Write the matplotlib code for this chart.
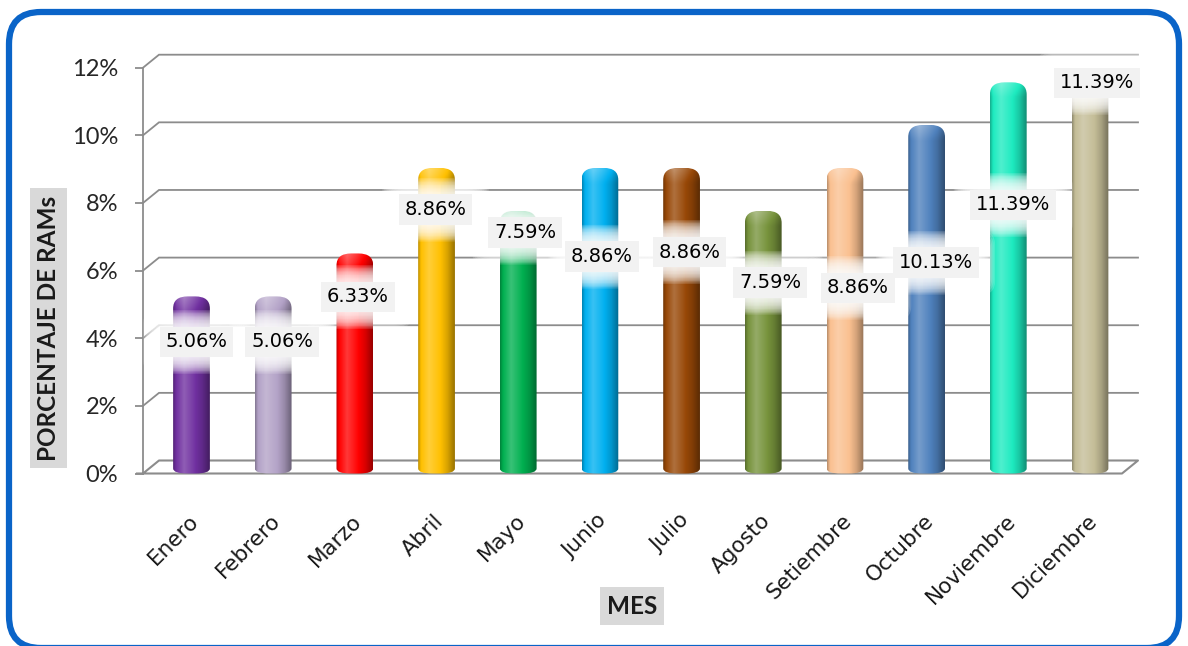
import numpy as np
import matplotlib.pyplot as plt
from matplotlib.path import Path
from matplotlib.patches import PathPatch, FancyBboxPatch
from matplotlib.colors import to_rgb
from matplotlib import transforms

# Datos: porcentaje de RAMs por mes
meses = ["Enero", "Febrero", "Marzo", "Abril", "Mayo", "Junio", "Julio",
         "Agosto", "Setiembre", "Octubre", "Noviembre", "Diciembre"]
porcentajes = [5.06, 5.06, 6.33, 8.86, 7.59, 8.86, 8.86, 7.59, 8.86, 10.13, 11.39, 11.39]
colores = ["#7030A0", "#B3A2C7", "#FF0000", "#FFC000", "#00B050", "#00B0F0",
           "#984807", "#77933C", "#FAC090", "#4F81BD", "#1DEBC0", "#C4BD97"]
y_ticks = [0, 2, 4, 6, 8, 10, 12]

# Ubicación de las etiquetas de valor (altura en % y desplazamiento en px)
etiqueta_y = [3.89, 3.89, 5.22, 7.80, 7.12, 6.41, 6.55, 5.64, 5.49, 6.23, 7.94, 11.55]
etiqueta_dx = [5, 9, 3, -1, 7, 2, 8, 7, 13, 9, 5, 7]

W, H = 1188, 646
fig = plt.figure(figsize=(W / 100, H / 100), dpi=100)

# Marco azul redondeado
ax_bg = fig.add_axes([0, 0, 1, 1], zorder=0)
ax_bg.set_xlim(0, W)
ax_bg.set_ylim(H, 0)
ax_bg.axis("off")
ax_bg.add_patch(FancyBboxPatch((9, 12), 1170, 636, boxstyle="round,pad=0,rounding_size=32",
                               lw=4.5, ec="#0a64c8", fc="white"))

# Ejes principales (en px: izquierda 143, derecha 1122, 0% en 473.5, 12% en 67.7)
px_x, px_y = 81.68, (473.5 - 67.7) / 12
x0 = -(191.5 - 143) / px_x
x1 = (1122 - 191.5) / px_x
ax = fig.add_axes([143 / W, 1 - 473.5 / H, (1122 - 143) / W, (473.5 - 67.7) / H], zorder=1)
ax.set_xlim(x0, x1)
ax.set_ylim(0, 12)
ax.patch.set_alpha(0)
for s in ax.spines.values():
    s.set_visible(False)

# Profundidad 3D de la cuadrícula
ddx, ddy = 16 / px_x, 13 / px_y
gris = "#8c8c8c"
for v in y_ticks[1:]:
    ax.plot([x0, x0 + ddx, x1 + ddx], [v, v + ddy, v + ddy], color=gris, lw=1.3,
            clip_on=False, zorder=1, solid_joinstyle="miter")
ax.plot([x0, x0], [0, 12], color=gris, lw=1.3, clip_on=False, zorder=1)
# piso
ax.plot([x0 - 6 / px_x, x1, x1 + ddx, x0 + ddx, x0], [0, 0, ddy, ddy, 0], color=gris,
        lw=1.5, clip_on=False, zorder=1)

ax.set_yticks(y_ticks)
ax.set_yticklabels([f"{v}%" for v in y_ticks], fontfamily="Lato", fontsize=17, color="#262626")
ax.tick_params(axis="y", length=6, width=1.3, color=gris, pad=12)
ax.set_xticks([])


def barra(xc, h, color, w=0.45):
    """Dibuja una barra cilíndrica; la tapa elíptica sobresale un poco del valor."""
    xa, xb = xc - w / 2, xc + w / 2
    top = h + 6 / px_y
    rx, ry = w * 0.4, 12 / px_y
    ryb = 5 / px_y
    verts = [(xa, ryb), (xa, top - ry), (xa, top), (xa + rx, top), (xb - rx, top), (xb, top),
             (xb, top - ry), (xb, ryb), (xb, 0), (xb - rx, 0), (xa + rx, 0), (xa, 0),
             (xa, ryb), (xa, ryb)]
    codes = [Path.MOVETO, Path.LINETO, Path.CURVE3, Path.CURVE3, Path.LINETO, Path.CURVE3,
             Path.CURVE3, Path.LINETO, Path.CURVE3, Path.CURVE3, Path.LINETO, Path.CURVE3,
             Path.CURVE3, Path.CLOSEPOLY]
    patch = PathPatch(Path(verts, codes), fc="none", ec="none")
    ax.add_patch(patch)

    base = np.array(to_rgb(color))
    t = np.linspace(0, 1, 60)
    # sombreado horizontal: borde oscuro, brillo a la izquierda, oscuro a la derecha
    f = np.interp(t, [0, 0.08, 0.3, 0.55, 0.8, 1], [-0.25, 0.0, 0.22, 0.05, -0.15, -0.4])
    rows = 120
    img = np.zeros((rows, t.size, 3))
    cap = min(0.9, 14 / (top * px_y))
    for r in range(rows):
        fr = 1 - r / (rows - 1)
        extra = 0.18 * (fr - (1 - cap)) / cap if fr > 1 - cap else 0
        for j, fj in enumerate(f + extra):
            if fj >= 0:
                img[r, j] = base + (1 - base) * fj
            else:
                img[r, j] = base * (1 + fj)
    im = ax.imshow(img, extent=[xa, xb, 0, top], origin="upper", aspect="auto",
                   interpolation="bilinear", zorder=2)
    im.set_clip_path(patch)


for i, (v, c) in enumerate(zip(porcentajes, colores)):
    barra(i, v, c)

# Etiquetas de valor con halo blanco difuso
for i, v in enumerate(porcentajes):
    tr = transforms.offset_copy(ax.transData, fig=fig, x=etiqueta_dx[i], y=0, units="dots")
    texto = f"{v:.2f}%"
    for pad in np.linspace(1.15, 0.35, 12):
        ax.text(i, etiqueta_y[i], texto, transform=tr, ha="center", va="center",
                fontsize=14, color="none", zorder=3,
                bbox=dict(boxstyle=f"round,pad={pad:.3f},rounding_size=0.7", fc="white",
                          ec="none", alpha=0.16))
    ax.text(i, etiqueta_y[i], texto, transform=tr, ha="center", va="center",
            fontsize=14, color="black", zorder=4,
            bbox=dict(boxstyle="square,pad=0.3", fc="#f2f2f2", ec="none"))

# Nombres de los meses
tr_mes = transforms.offset_copy(ax.transData, fig=fig, x=4, y=-44, units="dots")
for i, m in enumerate(meses):
    ax.text(i, 0, m, transform=tr_mes, ha="right", va="center", rotation=45,
            rotation_mode="anchor", fontsize=15.5, color="#1a1a1a", clip_on=False)

# Títulos de los ejes
fig.text(48.5 / W, 1 - 328 / H, "PORCENTAJE DE RAMs", rotation=90, ha="center", va="center",
         fontfamily="Lato", fontweight="bold", fontsize=17.5, color="#1a1a1a",
         bbox=dict(boxstyle="square,pad=0.3", fc="#d9d9d9", ec="none"))
fig.text(632 / W, 1 - 606 / H, "MES", ha="center", va="center",
         fontfamily="Lato", fontweight="bold", fontsize=17.5, color="#1a1a1a",
         bbox=dict(boxstyle="square,pad=0.3", fc="#d9d9d9", ec="none"))

fig.savefig("out.png", dpi=100)
